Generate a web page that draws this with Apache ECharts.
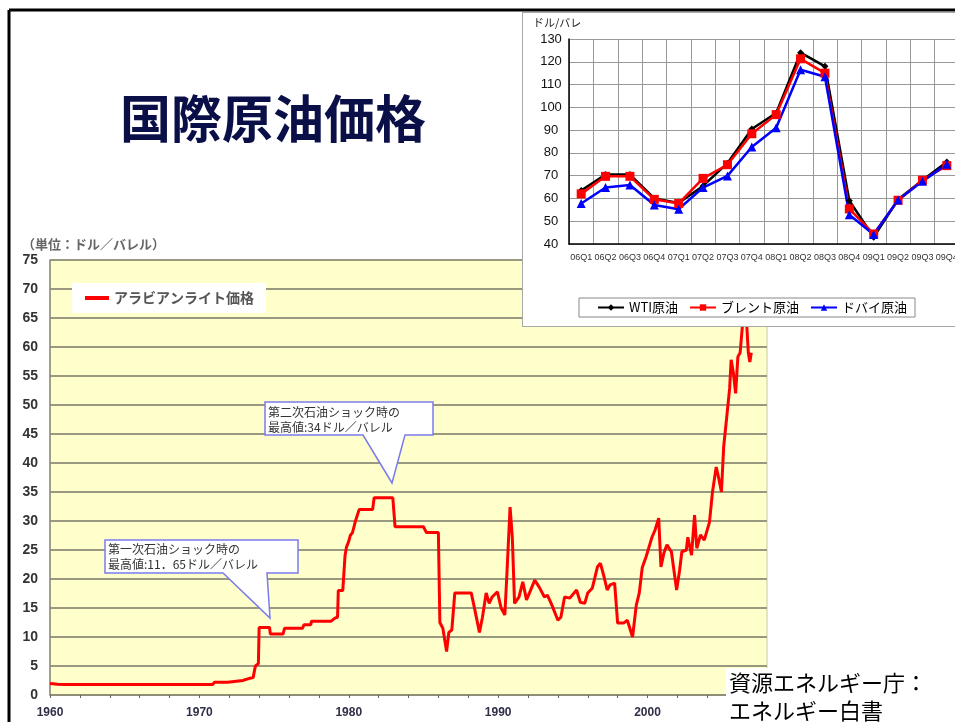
<!DOCTYPE html>
<html>
<head>
<meta charset="utf-8">
<script src="https://cdn.jsdelivr.net/npm/echarts@6/dist/echarts.min.js"></script>
<style>
  html, body { margin: 0; padding: 0; background: #fff; overflow: hidden; width: 955px; height: 722px; }
  #main { position: absolute; left: 0; top: 0; width: 955px; height: 722px; }
  #inset { position: absolute; left: 522px; top: 12px; width: 448px; height: 315px; background: #fff; border: 1px solid #a8a8a8; box-sizing: border-box; }
</style>
</head>
<body>
<div id="main"></div>
<div id="inset"></div>
<script>
// アラビアンライト価格 (年, ドル/バレル)
const alYears = [
  1960.0, 1960.5, 1961.0, 1970.9, 1971.0, 1971.9, 1972.0, 1972.9, 1973.0, 1973.4,
  1973.6, 1973.75, 1973.95, 1974.0, 1974.7, 1974.75, 1975.6, 1975.7, 1976.9, 1977.0,
  1977.45, 1977.5, 1978.8, 1979.1, 1979.25, 1979.3, 1979.6, 1979.75, 1979.85, 1980.0,
  1980.1, 1980.25, 1980.45, 1980.7, 1981.6, 1981.7, 1982.95, 1983.1, 1985.0, 1985.2,
  1986.0, 1986.1, 1986.3, 1986.55, 1986.7, 1986.9, 1987.1, 1988.2, 1988.4, 1988.75,
  1988.95, 1989.2, 1989.4, 1989.6, 1989.95, 1990.2, 1990.45, 1990.6, 1990.8, 1990.95,
  1991.1, 1991.4, 1991.65, 1991.9, 1992.1, 1992.45, 1992.75, 1993.1, 1993.3, 1993.6,
  1994.0, 1994.2, 1994.45, 1994.8, 1995.25, 1995.5, 1995.8, 1996.0, 1996.3, 1996.65,
  1996.85, 1997.1, 1997.3, 1997.5, 1997.8, 1998.0, 1998.4, 1998.65, 1999.0, 1999.25,
  1999.45, 1999.65, 1999.9, 2000.1, 2000.3, 2000.5, 2000.75, 2000.9, 2001.1, 2001.3,
  2001.6, 2001.95, 2002.15, 2002.3, 2002.6, 2002.7, 2002.95, 2003.15, 2003.3, 2003.55,
  2003.8, 2004.15, 2004.35, 2004.6, 2004.75, 2004.95, 2005.1, 2005.3, 2005.5, 2005.6,
  2005.75, 2005.9, 2006.05, 2006.2, 2006.35, 2006.5, 2006.65, 2006.75, 2006.85, 2006.95
];
const alPrices = [
  2.0, 1.85, 1.8, 1.8, 2.2, 2.2, 2.45, 2.5, 2.7, 2.9,
  3.0, 5.0, 5.4, 11.65, 11.65, 10.5, 10.5, 11.5, 11.5, 12.1,
  12.1, 12.7, 12.7, 13.3, 13.4, 18.0, 18.0, 24.0, 25.5, 26.5,
  27.5, 28.0, 30.0, 32.0, 32.0, 34.0, 34.0, 29.0, 29.0, 28.0,
  28.0, 12.5, 11.5, 7.5, 10.8, 11.2, 17.6, 17.6, 15.2, 10.8,
  13.4, 17.6, 15.8, 16.9, 17.8, 15.0, 13.8, 21.5, 32.4, 27.2,
  15.8, 16.9, 19.5, 16.4, 17.6, 19.8, 18.6, 16.9, 17.2, 15.5,
  12.9, 13.4, 16.9, 16.7, 18.1, 16.0, 15.8, 17.6, 18.4, 22.1,
  22.7, 20.3, 18.1, 19.0, 19.3, 12.4, 12.4, 12.9, 10.0, 15.5,
  17.6, 22.0, 23.8, 25.5, 27.2, 28.4, 30.5, 22.1, 24.5, 25.9,
  24.7, 18.1, 21.5, 24.7, 25.0, 27.2, 24.1, 31.0, 25.3, 27.6,
  26.7, 29.8, 35.0, 39.3, 37.6, 35.0, 42.8, 47.8, 52.9, 57.8,
  55.5, 52.0, 58.3, 59.0, 63.5, 68.0, 63.5, 59.0, 57.4, 59.0
];

// 四半期別 原油価格 (ドル/バレル)
const quarters = ['06Q1', '06Q2', '06Q3', '06Q4', '07Q1', '07Q2', '07Q3', '07Q4',
  '08Q1', '08Q2', '08Q3', '08Q4', '09Q1', '09Q2', '09Q3', '09Q4'];
const wti   = [63.5, 70.5, 70.5, 60.0, 58.0, 65.5, 75.5, 90.5, 97.5, 124.0, 118.0, 59.0, 43.0, 59.5, 68.0, 76.0];
const brent = [62.0, 69.7, 69.7, 59.6, 57.8, 68.8, 74.8, 88.4, 96.8, 121.3, 115.0, 55.4, 44.4, 59.2, 68.0, 74.4];
const dubai = [57.8, 64.8, 65.9, 57.1, 55.3, 64.8, 69.9, 82.6, 91.0, 116.5, 113.4, 52.8, 44.2, 59.3, 67.5, 75.0];

const jp = '"Noto Sans CJK JP", sans-serif';
const lat = '"Liberation Sans", "Noto Sans CJK JP", sans-serif';

const main = echarts.init(document.getElementById('main'));
main.setOption({
  animation: false,
  textStyle: { fontFamily: lat },
  grid: {
    left: 50, top: 260, right: 188, bottom: 27,
    show: true, backgroundColor: '#ffffcc', borderColor: '#c9c9aa', borderWidth: 1
  },
  legend: {
    left: 72, top: 283,
    backgroundColor: '#fff',
    padding: [8, 12, 8, 13],
    itemWidth: 24, itemHeight: 4, itemGap: 6,
    textStyle: { fontFamily: jp, fontSize: 14, fontWeight: 'bold', color: '#555' },
    data: [{ name: 'アラビアンライト価格', icon: 'rect' }]
  },
  xAxis: {
    type: 'value', min: 1960, max: 2008, interval: 2,
    axisLine: { lineStyle: { color: '#8a8a78', width: 1.5 } },
    axisTick: { length: 3, lineStyle: { color: '#666' } },
    axisLabel: {
      formatter: v => (v % 10 === 0 ? String(v) : ''),
      color: '#2f2f48', fontSize: 12, fontWeight: 'bold', margin: 12
    },
    splitLine: { show: false }
  },
  yAxis: {
    type: 'value', min: 0, max: 75, interval: 5,
    axisLine: { show: true, lineStyle: { color: '#8a8a78', width: 1.5 } },
    axisTick: { show: false },
    axisLabel: { color: '#333', fontSize: 14, fontWeight: 'bold', margin: 12 },
    splitLine: { lineStyle: { color: '#99997f', width: 2 } }
  },
  series: [{
    name: 'アラビアンライト価格',
    type: 'line',
    symbol: 'none',
    data: alYears.map((y, i) => [y, alPrices[i]]),
    lineStyle: { color: '#ff0000', width: 3 },
    itemStyle: { color: '#ff0000' }
  }],
  graphic: [
    { type: 'line', z: 100, shape: { x1: 9, y1: 10, x2: 955, y2: 10 }, style: { stroke: '#000', lineWidth: 3 } },
    { type: 'line', z: 100, shape: { x1: 9, y1: 10, x2: 9, y2: 722 }, style: { stroke: '#000', lineWidth: 3 } },
    {
      type: 'text', z: 100, x: 273, y: 119,
      style: { text: '国際原油価格', font: 'bold 51px ' + jp, fill: '#0b0f48', align: 'center', verticalAlign: 'middle' }
    },
    {
      type: 'text', z: 100, x: 22, y: 244,
      style: { text: '（単位：ドル／バレル）', font: 'bold 13px ' + jp, fill: '#666', verticalAlign: 'middle' }
    },
    {
      type: 'polygon', z: 100,
      shape: { points: [[105, 540], [298, 540], [298, 573], [267, 573], [270, 618], [223, 573], [105, 573]] },
      style: { fill: '#fff', stroke: '#7b7bee', lineWidth: 1.5 }
    },
    { type: 'text', z: 101, x: 108, y: 549, style: { text: '第一次石油ショック時の', font: '12px ' + jp, fill: '#333', verticalAlign: 'middle' } },
    { type: 'text', z: 101, x: 108, y: 564, style: { text: '最高値:11．65ドル／バレル', font: '12px ' + jp, fill: '#333', verticalAlign: 'middle' } },
    {
      type: 'polygon', z: 100,
      shape: { points: [[265, 402], [433, 402], [433, 435], [405, 435], [392, 483], [363, 435], [265, 435]] },
      style: { fill: '#fff', stroke: '#7b7bee', lineWidth: 1.5 }
    },
    { type: 'text', z: 101, x: 268, y: 412, style: { text: '第二次石油ショック時の', font: '12px ' + jp, fill: '#333', verticalAlign: 'middle' } },
    { type: 'text', z: 101, x: 268, y: 427, style: { text: '最高値:34ドル／バレル', font: '12px ' + jp, fill: '#333', verticalAlign: 'middle' } },
    { type: 'rect', z: 100, shape: { x: 726, y: 668, width: 240, height: 60 }, style: { fill: '#fff' } },
    { type: 'text', z: 101, x: 729, y: 683, style: { text: '資源エネルギー庁：', font: '22px ' + jp, fill: '#000', verticalAlign: 'middle' } },
    { type: 'text', z: 101, x: 729, y: 711, style: { text: 'エネルギー白書', font: '22px ' + jp, fill: '#000', verticalAlign: 'middle' } }
  ]
});

const inset = echarts.init(document.getElementById('inset'));
inset.setOption({
  animation: false,
  textStyle: { fontFamily: lat },
  grid: { left: 46, top: 26, width: 390, height: 205 },
  legend: {
    left: 56, top: 285,
    borderColor: '#888', borderWidth: 1,
    padding: [3, 8, 3, 18],
    itemWidth: 26, itemHeight: 8, itemGap: 11,
    textStyle: { fontFamily: jp, fontSize: 13, color: '#000' },
    data: ['WTI原油', 'ブレント原油', 'ドバイ原油']
  },
  xAxis: {
    type: 'category', data: quarters, boundaryGap: true,
    axisLine: { lineStyle: { color: '#000', width: 1.5 } },
    axisTick: { show: false },
    axisLabel: { interval: 0, fontSize: 9, color: '#333', margin: 9 },
    splitLine: { show: true, interval: 0, lineStyle: { color: '#999' } }
  },
  yAxis: {
    type: 'value', min: 40, max: 130, interval: 10,
    axisLine: { show: true, lineStyle: { color: '#000', width: 1.5 } },
    axisTick: { show: false },
    axisLabel: { fontSize: 13, color: '#111', margin: 18, align: 'center' },
    splitLine: { lineStyle: { color: '#999' } }
  },
  graphic: [
    { type: 'text', x: 10, y: 10, style: { text: 'ドル/バレ', font: '11px ' + jp, fill: '#222', verticalAlign: 'middle' } }
  ],
  series: [
    {
      name: 'WTI原油', type: 'line', data: wti,
      symbol: 'diamond', symbolSize: 7,
      lineStyle: { color: '#000', width: 2.5 }, itemStyle: { color: '#000' }
    },
    {
      name: 'ブレント原油', type: 'line', data: brent,
      symbol: 'rect', symbolSize: 9,
      lineStyle: { color: '#ff0000', width: 2.5 }, itemStyle: { color: '#ff0000' }
    },
    {
      name: 'ドバイ原油', type: 'line', data: dubai,
      symbol: 'triangle', symbolSize: 9,
      lineStyle: { color: '#0000ff', width: 2.5 }, itemStyle: { color: '#0000ff' }
    }
  ]
});
</script>
</body>
</html>
